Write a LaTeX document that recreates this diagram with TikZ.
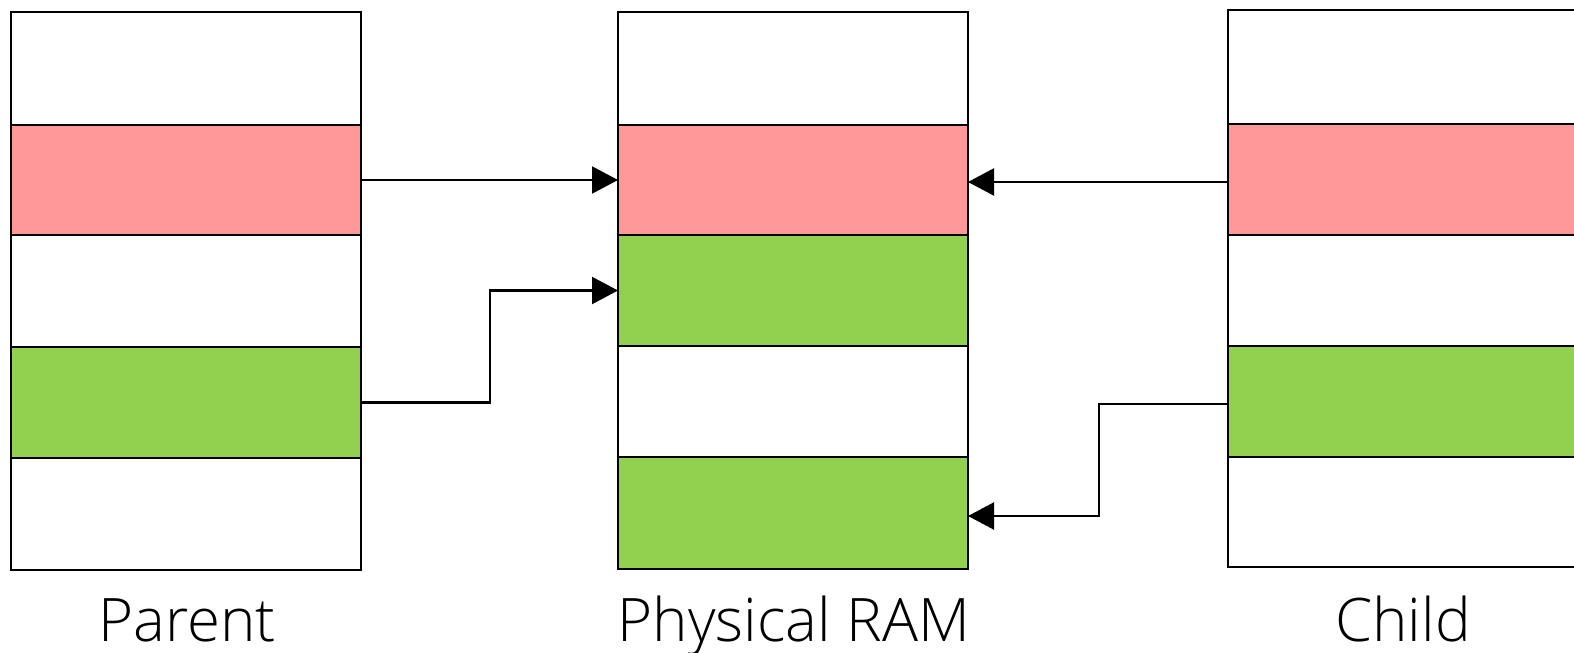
\documentclass[tikz,border=0pt]{standalone}
\usepackage{fontspec}
\usetikzlibrary{arrows.meta}
\IfFontExistsTF{Open Sans Light}{\newfontfamily\lblfont{Open Sans Light}}{\newfontfamily\lblfont{Open Sans}}
\definecolor{pagered}{HTML}{FF9999}
\definecolor{pagegreen}{HTML}{92D050}
\tikzset{
  band/.style={draw=black, line width=1pt, inner sep=0pt, outer sep=0pt,
    minimum width=175pt, anchor=north west},
  conn/.style={draw=black, line width=1.1pt, -{Triangle[length=13pt,width=13.5pt]}},
  lbl/.style={font=\lblfont\fontsize{30}{36}\selectfont, anchor=base, inner sep=0pt}
}
% one memory slot: name, left x, top y, bottom y, fill
\newcommand\memband[5]{%
  \node[band, fill=#5, minimum height={(#4-#3)*0.5pt}] (#1) at (#2,#3) {};}
\begin{document}
\begin{tikzpicture}[x=0.5pt,y=-0.5pt]
\useasboundingbox (0,0) rectangle (1574,653);
% parent address space
\memband{p1}{11}{12}{125}{white}
\memband{p2}{11}{125}{235}{pagered}
\memband{p3}{11}{235}{347}{white}
\memband{p4}{11}{347}{458}{pagegreen}
\memband{p5}{11}{458}{570}{white}
% physical memory
\memband{r1}{618}{12}{125}{white}
\memband{r2}{618}{125}{235}{pagered}
\memband{r3}{618}{235}{346}{pagegreen}
\memband{r4}{618}{346}{457}{white}
\memband{r5}{618}{457}{569}{pagegreen}
% child address space
\memband{c1}{1228}{10}{124}{white}
\memband{c2}{1228}{124}{235}{pagered}
\memband{c3}{1228}{235}{346}{white}
\memband{c4}{1228}{346}{457}{pagegreen}
\memband{c5}{1228}{457}{567}{white}
% mappings
\coordinate (k1) at (490,0);
\coordinate (k2) at (1099,0);
\coordinate (cr) at ([yshift=-1.25pt]c2.west);
\coordinate (cg) at ([yshift=-1.25pt]c4.west);
\coordinate (rg) at ([yshift=-1.5pt]r5.east);
\draw[conn] (p2.east) -- (r2.west);
\draw[conn] (p4.east) -| (k1 |- r3.west) -- (r3.west);
\draw[conn] (cr) -- (cr -| r2.east);
\draw[conn] (cg) -| (k2 |- rg) -- (rg);
% captions
\node[lbl] (tp) at (187,641) {Parent};
\node[lbl] (tr) at (794,641) {Physical RAM};
\node[lbl] (tc) at (1403,641) {Child};
\end{tikzpicture}
\end{document}
